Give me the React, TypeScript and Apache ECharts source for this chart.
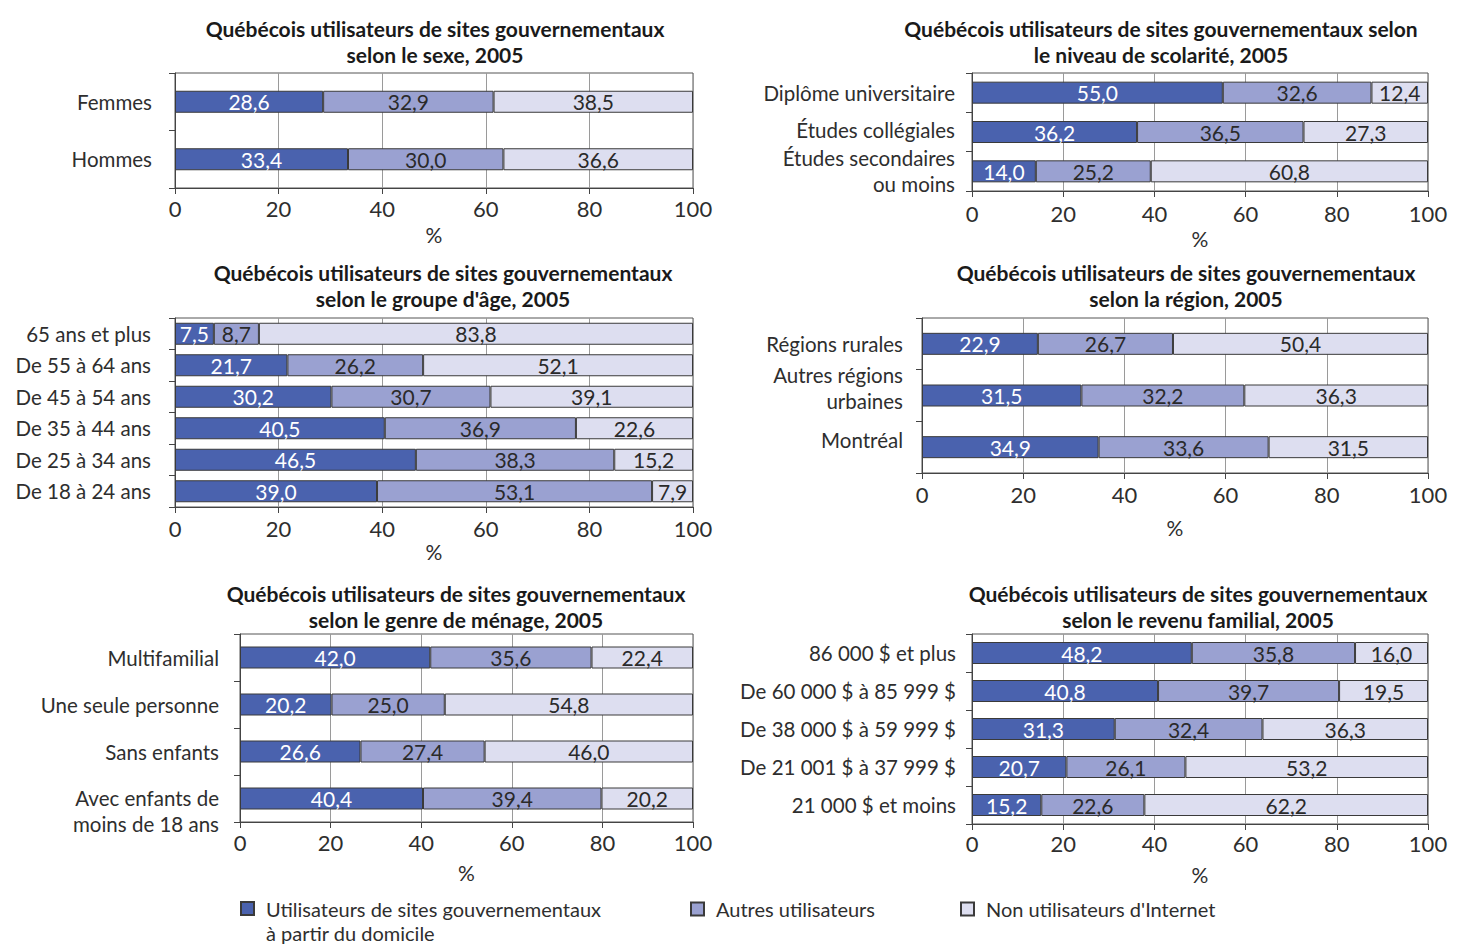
import React, { useEffect, useRef } from "react";
import * as echarts from "echarts";

const SERIES_NAMES = [
  "Utilisateurs de sites gouvernementaux\nà partir du domicile",
  "Autres utilisateurs",
  "Non utilisateurs d'Internet",
];
const X_TICKS = [0, 20, 40, 60, 80, 100];

const sexCats = ["Femmes", "Hommes"];
const sexA = [28.6, 33.4];
const sexB = [32.9, 30.0];
const sexC = [38.5, 36.6];

const scolCats = ["Diplôme universitaire", "Études collégiales", "Études secondaires\nou moins"];
const scolA = [55.0, 36.2, 14.0];
const scolB = [32.6, 36.5, 25.2];
const scolC = [12.4, 27.3, 60.8];

const ageCats = ["65 ans et plus", "De 55 à 64 ans", "De 45 à 54 ans", "De 35 à 44 ans", "De 25 à 34 ans", "De 18 à 24 ans"];
const ageA = [7.5, 21.7, 30.2, 40.5, 46.5, 39.0];
const ageB = [8.7, 26.2, 30.7, 36.9, 38.3, 53.1];
const ageC = [83.8, 52.1, 39.1, 22.6, 15.2, 7.9];

const regCats = ["Régions rurales", "Autres régions\nurbaines", "Montréal"];
const regA = [22.9, 31.5, 34.9];
const regB = [26.7, 32.2, 33.6];
const regC = [50.4, 36.3, 31.5];

const menCats = ["Multifamilial", "Une seule personne", "Sans enfants", "Avec enfants de\nmoins de 18 ans"];
const menA = [42.0, 20.2, 26.6, 40.4];
const menB = [35.6, 25.0, 27.4, 39.4];
const menC = [22.4, 54.8, 46.0, 20.2];

const revCats = ["86 000 $ et plus", "De 60 000 $ à 85 999 $", "De 38 000 $ à 59 999 $", "De 21 001 $ à 37 999 $", "21 000 $ et moins"];
const revA = [48.2, 40.8, 31.3, 20.7, 15.2];
const revB = [35.8, 39.7, 32.4, 26.1, 22.6];
const revC = [16.0, 19.5, 36.3, 53.2, 62.2];

const TITLES = [
  "Québécois utilisateurs de sites gouvernementaux\nselon le sexe, 2005",
  "Québécois utilisateurs de sites gouvernementaux selon\nle niveau de scolarité, 2005",
  "Québécois utilisateurs de sites gouvernementaux\nselon le groupe d'âge, 2005",
  "Québécois utilisateurs de sites gouvernementaux\nselon la région, 2005",
  "Québécois utilisateurs de sites gouvernementaux\nselon le genre de ménage, 2005",
  "Québécois utilisateurs de sites gouvernementaux\nselon le revenu familial, 2005",
];

const FONT = "Lato, 'Noto Sans', sans-serif";
const COLORS = ["#4A62AE", "#9AA1D1", "#DDDEF0"];
const LABEL_COLORS = ["#ffffff", "#2a2a2a", "#2a2a2a"];
const TEXT = "#2e2e2e";
const CAT_FS = 20.5;

const panels = [
  { cats: sexCats, vals: [sexA, sexB, sexC], grid: { left: 175, top: 73, width: 518, height: 115 }, labelMargin: 23, xMargin: 9, nameGap: 36, shift: [0, 0], title: { x: 435, y: 15 } },
  { cats: scolCats, vals: [scolA, scolB, scolC], grid: { left: 972, top: 73, width: 456, height: 118 }, labelMargin: 17, xMargin: 11, nameGap: 37, shift: [0, -2, 0], title: { x: 1161, y: 15 } },
  { cats: ageCats, vals: [ageA, ageB, ageC], grid: { left: 175, top: 318, width: 518, height: 189 }, labelMargin: 24, xMargin: 10, nameGap: 34, shift: [0, 0, 0, 0, 0, 0], title: { x: 443, y: 259 } },
  { cats: regCats, vals: [regA, regB, regC], grid: { left: 922, top: 318, width: 506, height: 155 }, labelMargin: 19, xMargin: 10, nameGap: 44, shift: [0, -8, -7], title: { x: 1186, y: 259 } },
  { cats: menCats, vals: [menA, menB, menC], grid: { left: 240, top: 634, width: 453, height: 188 }, labelMargin: 21, xMargin: 9, nameGap: 40, shift: [0, 0, 0, 12], title: { x: 456, y: 580 } },
  { cats: revCats, vals: [revA, revB, revC], grid: { left: 972, top: 634, width: 456, height: 190 }, labelMargin: 16, xMargin: 8, nameGap: 40, shift: [0, 0, 0, 0, 0], title: { x: 1198, y: 580 } },
];

const fmt = (p: any) => Number(p.value).toFixed(1).replace(".", ",");

export default function App() {
  const ref = useRef<HTMLDivElement>(null);
  useEffect(() => {
    document.body.style.margin = "0";
    if (!ref.current) return;
    const chart = echarts.init(ref.current, undefined, { renderer: "svg" });

    const grid: any[] = [];
    const xAxis: any[] = [];
    const yAxis: any[] = [];
    const series: any[] = [];
    const graphic: any[] = [];

    panels.forEach((p, i) => {
      grid.push({ ...p.grid, show: true, borderColor: "#555", borderWidth: 1, backgroundColor: "transparent", containLabel: false });
      xAxis.push({
        type: "value",
        gridIndex: i,
        min: X_TICKS[0],
        max: X_TICKS[X_TICKS.length - 1],
        interval: X_TICKS[1] - X_TICKS[0],
        name: "%",
        nameLocation: "middle",
        nameGap: p.nameGap,
        nameTextStyle: { fontSize: 21, color: TEXT, fontFamily: FONT },
        axisLine: { show: true, lineStyle: { color: "#444", width: 1 } },
        axisTick: { show: true, length: 6, lineStyle: { color: "#444" } },
        axisLabel: { fontSize: 22, color: TEXT, fontFamily: FONT, margin: p.xMargin },
        splitLine: { show: true, lineStyle: { color: "#9a9a9a", width: 1 } },
      });
      const rich: any = { l: { fontSize: CAT_FS, lineHeight: 26, fontFamily: FONT, color: TEXT } };
      p.shift.forEach((s, k) => {
        if (s !== 0) rich["u" + k] = { fontSize: 1, lineHeight: Math.abs(s) * 2 };
      });
      yAxis.push({
        type: "category",
        gridIndex: i,
        data: p.cats,
        inverse: true,
        axisLine: { show: true, lineStyle: { color: "#444", width: 1 } },
        axisTick: { show: true, length: 6, interval: 0, lineStyle: { color: "#444" } },
        axisLabel: {
          interval: 0,
          hideOverlap: false,
          fontSize: CAT_FS,
          color: TEXT,
          fontFamily: FONT,
          margin: p.labelMargin,
          lineHeight: 26,
          align: "right",
          rich,
          formatter: (value: string, idx: number) => {
            const lines = String(value).split("\n").map((l) => `{l|${l}}`);
            const s = p.shift[idx] || 0;
            if (s < 0) lines.push(`{u${idx}| }`);
            if (s > 0) lines.unshift(`{u${idx}| }`);
            return lines.join("\n");
          },
        },
        splitLine: { show: false },
      });
      p.vals.forEach((v, s) => {
        series.push({
          type: "bar",
          name: SERIES_NAMES[s],
          xAxisIndex: i,
          yAxisIndex: i,
          stack: "p" + i,
          data: v,
          barWidth: 22,
          itemStyle: { color: COLORS[s], borderColor: "#3a3a3a", borderWidth: 1 },
          label: { show: true, position: "inside", color: LABEL_COLORS[s], fontSize: 21, fontFamily: FONT, formatter: fmt },
          emphasis: { disabled: true },
        });
      });
      graphic.push({
        type: "text",
        x: p.title.x,
        y: p.title.y,
        style: {
          text: TITLES[i],
          align: "center",
          verticalAlign: "top",
          fontSize: 21,
          fontWeight: "bold",
          lineHeight: 26,
          fontFamily: FONT,
          fill: "#1a1a1a",
        },
      });
    });

    const legendRich = {
      b: { fontSize: 20, fontFamily: FONT, color: TEXT, lineHeight: 24, padding: [0, 0, 0, 7] },
      e: { fontSize: 1, lineHeight: 24 },
    };
    const legendBase = {
      orient: "horizontal",
      icon: "rect",
      itemWidth: 13,
      itemHeight: 13,
      padding: 0,
      selectedMode: false,
      textStyle: { fontSize: 20, color: TEXT, fontFamily: FONT, rich: legendRich },
      formatter: (name: string) => {
        const lines = name.split("\n").map((l) => `{b|${l}}`);
        if (lines.length > 1) lines.unshift("{e| }");
        return lines.join("\n");
      },
    };

    chart.setOption({
      animation: false,
      backgroundColor: "#ffffff",
      grid,
      xAxis,
      yAxis,
      series,
      graphic,
      legend: [
        { ...legendBase, data: [SERIES_NAMES[0]], left: 240, top: 884 },
        { ...legendBase, data: [SERIES_NAMES[1]], left: 690, top: 899 },
        { ...legendBase, data: [SERIES_NAMES[2]], left: 960, top: 899 },
      ],
    });
    return () => chart.dispose();
  }, []);
  return <div ref={ref} style={{ width: 1465, height: 946 }} />;
}
